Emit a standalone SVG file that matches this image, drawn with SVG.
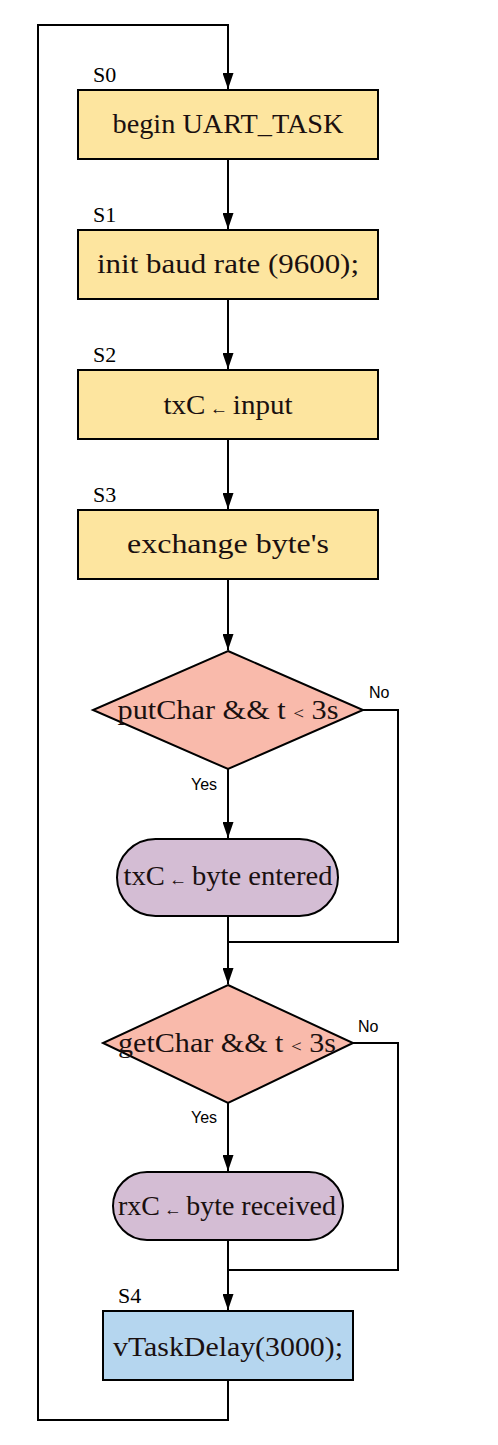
<svg xmlns="http://www.w3.org/2000/svg" width="498" height="1445" viewBox="0 0 498 1445">
<style>
.bg{fill:#ffffff}
.proc{fill:#fde59f;stroke:#000;stroke-width:2}
.dec{fill:#f9baab;stroke:#000;stroke-width:2}
.term{fill:#d4bdd4;stroke:#000;stroke-width:2}
.delay{fill:#b5d6ef;stroke:#000;stroke-width:2}
.t{font-family:"Liberation Serif","DejaVu Serif",serif;font-size:27px;fill:#1a1010;text-anchor:middle}
.s{font-family:"Liberation Serif","DejaVu Serif",serif;font-size:22px;fill:#000}
.lbl{font-family:"Liberation Sans",Arial,sans-serif;font-size:16px;fill:#000}
.arr{font-size:17px}
.edge{fill:none;stroke:#000;stroke-width:2}
</style>
<defs>
<marker id="ah" markerWidth="16" markerHeight="11" refX="16" refY="5.5" orient="auto" markerUnits="userSpaceOnUse" viewBox="0 0 16 11">
<path d="M0,0 L16,5.5 L0,11 Z" fill="#000"/>
</marker>
</defs>
<rect class="bg" x="0" y="0" width="498" height="1445"/>
<g id="connectors">
<path class="edge" d="M228,1380 L228,1420 L38,1420 L38,25 L228,25 L228,89" marker-end="url(#ah)"/>
<path class="edge" d="M228,159 L228,229" marker-end="url(#ah)"/>
<path class="edge" d="M228,299 L228,369" marker-end="url(#ah)"/>
<path class="edge" d="M228,439 L228,509" marker-end="url(#ah)"/>
<path class="edge" d="M228,579 L228,650" marker-end="url(#ah)"/>
<path class="edge" d="M228,769 L228,838" marker-end="url(#ah)"/>
<path class="edge" d="M363,710 L398,710 L398,942 L228,942"/>
<path class="edge" d="M228,916 L228,984" marker-end="url(#ah)"/>
<path class="edge" d="M228,1103 L228,1171" marker-end="url(#ah)"/>
<path class="edge" d="M353,1043 L398,1043 L398,1270 L228,1270"/>
<path class="edge" d="M228,1240 L228,1310" marker-end="url(#ah)"/>
<text class="lbl" x="369" y="698">No</text>
<text class="lbl" x="191" y="790">Yes</text>
<text class="lbl" x="358" y="1032">No</text>
<text class="lbl" x="191" y="1123">Yes</text>
</g>
<g id="S0">
<text class="s" x="93" y="82">S0</text>
<rect class="proc" x="78" y="90" width="300" height="69"/>
<text class="t" x="228" y="133" textLength="231" lengthAdjust="spacingAndGlyphs">begin UART_TASK</text>
</g>
<g id="S1">
<text class="s" x="93" y="222">S1</text>
<rect class="proc" x="78" y="230" width="300" height="69"/>
<text class="t" x="228" y="273" textLength="262" lengthAdjust="spacingAndGlyphs">init baud rate (9600);</text>
</g>
<g id="S2">
<text class="s" x="93" y="362">S2</text>
<rect class="proc" x="78" y="370" width="300" height="69"/>
<text class="t" x="228" y="414" textLength="129" lengthAdjust="spacingAndGlyphs">txC<tspan class="arr"> ← </tspan>input</text>
</g>
<g id="S3">
<text class="s" x="93" y="502">S3</text>
<rect class="proc" x="78" y="510" width="300" height="69"/>
<text class="t" x="228" y="553" textLength="202" lengthAdjust="spacingAndGlyphs">exchange byte's</text>
</g>
<g id="D1">
<polygon class="dec" points="228,651 363,710 228,769 93,710"/>
<text class="t" x="228" y="719" textLength="221" lengthAdjust="spacingAndGlyphs">putChar &amp;&amp; t <tspan class="arr">&lt;</tspan> 3s</text>
</g>
<g id="T1">
<rect class="term" x="117" y="839" width="221" height="77" rx="38.5" ry="38.5"/>
<text class="t" x="228" y="885" textLength="209" lengthAdjust="spacingAndGlyphs">txC<tspan class="arr"> ← </tspan>byte entered</text>
</g>
<g id="D2">
<polygon class="dec" points="228,985 353,1043 228,1103 103,1043"/>
<text class="t" x="227" y="1052" textLength="218" lengthAdjust="spacingAndGlyphs">getChar &amp;&amp; t <tspan class="arr">&lt;</tspan> 3s</text>
</g>
<g id="T2">
<rect class="term" x="113" y="1172" width="230" height="68" rx="34" ry="34"/>
<text class="t" x="227" y="1215" textLength="218" lengthAdjust="spacingAndGlyphs">rxC<tspan class="arr"> ← </tspan>byte received</text>
</g>
<g id="S4">
<text class="s" x="118" y="1303">S4</text>
<rect class="delay" x="103" y="1311" width="250" height="69"/>
<text class="t" x="228" y="1356" textLength="230" lengthAdjust="spacingAndGlyphs">vTaskDelay(3000);</text>
</g>
</svg>
